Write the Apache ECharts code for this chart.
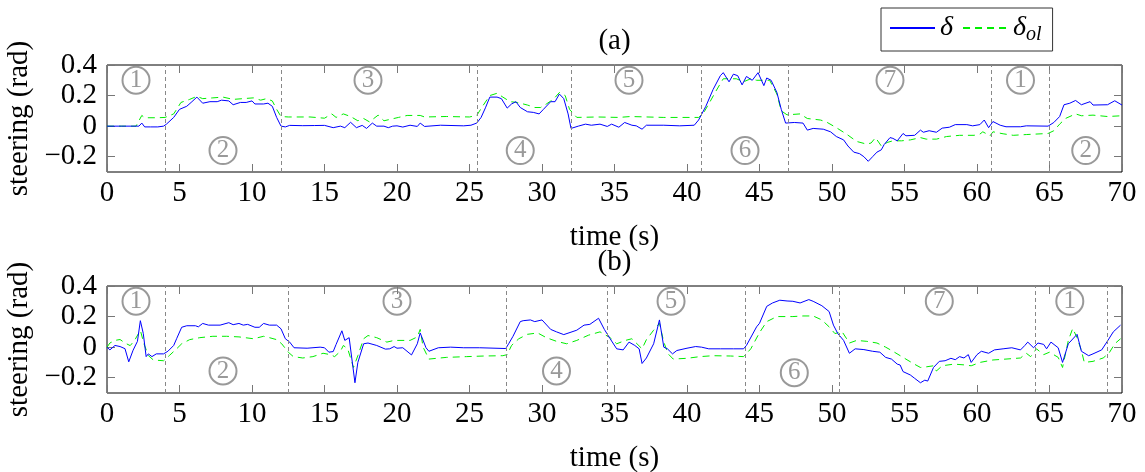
<!DOCTYPE html>
<html>
<head>
<meta charset="utf-8">
<script src="https://cdn.jsdelivr.net/npm/echarts@6/dist/echarts.min.js"></script>
<style>
html,body{margin:0;padding:0;background:#fff;}
#chart{width:1145px;height:472px;}
</style>
</head>
<body>
<div id="chart"></div>
<script>
// ---------- DATA ----------
const xTicks = [0,5,10,15,20,25,30,35,40,45,50,55,60,65,70];
const yTicks = [-0.2, 0, 0.2, 0.4];

// (a) delta (blue)
const aDeltaT = [0,1,2.2,2.4,2.6,3.0,3.5,3.9,4.1,4.6,5.0,5.5,5.8,6.2,6.6,7.1,7.6,7.9,8.4,8.7,9.2,9.6,10.0,10.2,10.8,11.1,11.4,11.7,12.0,12.3,12.6,13.5,14.3,15.0,15.6,16.1,16.4,16.8,17.2,17.6,17.9,18.3,18.6,19.1,19.4,19.7,20.0,20.4,20.9,21.4,21.6,21.9,23.0,24.6,25.1,25.5,25.8,26.1,26.4,26.9,27.2,27.6,27.9,28.2,28.5,29.0,29.4,29.8,30.1,30.6,30.9,31.2,31.5,31.8,32.0,32.5,33.0,33.4,34.0,34.5,34.8,35.3,35.7,36.2,36.5,36.9,37.2,38.4,39.5,40.5,40.8,41.3,41.8,42.3,42.5,42.9,43.2,43.5,43.8,44.1,44.5,44.9,45.3,45.5,45.8,46.2,46.5,46.8,47.4,48.0,48.3,48.7,49.4,49.9,50.3,50.8,51.1,51.5,51.9,52.2,52.5,52.8,53.1,53.4,53.6,54.0,54.2,54.5,54.9,55.1,55.7,56.1,56.3,56.7,57.2,57.6,58.1,58.5,59.3,59.7,60.2,60.5,60.8,61.1,61.6,62.0,63.0,63.4,64.9,65.3,65.7,66.0,66.4,66.8,67.2,67.8,68.0,69.0,69.5,70.0];
const aDeltaV = [0,0,0,0.02,-0.005,-0.005,-0.005,0,0.013,0.057,0.11,0.13,0.155,0.19,0.15,0.16,0.16,0.17,0.165,0.14,0.155,0.155,0.165,0.145,0.145,0.15,0.13,0.057,0,-0.005,0.005,0.003,0.004,0.005,-0.01,0,-0.01,0.025,-0.01,0.005,-0.015,0.02,0,0,-0.01,0,0.002,-0.006,0.006,-0.002,0.02,-0.002,0.006,0.002,0.006,0.02,0.057,0.12,0.19,0.19,0.18,0.118,0.145,0.16,0.122,0.094,0.09,0.08,0.11,0.16,0.16,0.21,0.18,0.08,-0.015,0,0.013,0.006,0.013,-0.002,0.013,-0.007,0.024,0.006,0.002,-0.02,0.006,0.006,0.002,0.006,0.04,0.13,0.24,0.33,0.35,0.29,0.34,0.33,0.27,0.325,0.3,0.35,0.265,0.315,0.3,0.22,0.11,0.02,0.024,0.02,-0.026,-0.015,-0.02,-0.037,-0.068,-0.09,-0.13,-0.17,-0.18,-0.2,-0.23,-0.2,-0.17,-0.155,-0.12,-0.075,-0.08,-0.096,-0.048,-0.063,-0.06,-0.026,-0.04,-0.03,-0.04,-0.013,-0.007,0.01,0.01,0.002,0.01,0.04,-0.01,0.03,0.006,-0.004,-0.004,0.002,0,0.024,0.063,0.14,0.15,0.168,0.14,0.16,0.138,0.14,0.166,0.138];

// (a) delta_ol (green)
const aOlT = [0,2.0,2.4,2.6,3.5,4.0,4.6,5.1,5.7,6.2,6.6,7.3,8.0,8.7,9.4,10.1,10.6,11.0,11.4,11.7,12.0,12.5,14.0,15.0,15.5,15.8,16.3,16.8,17.3,17.7,18.1,18.7,19.1,19.6,20.1,20.7,21.6,21.9,23.4,25.0,25.5,25.9,26.4,26.9,27.3,27.8,28.3,29.0,29.5,29.9,30.3,30.8,31.2,31.6,31.9,32.4,33.8,35.3,36.1,38.4,40.8,41.1,41.5,42.0,42.5,43.0,43.4,43.9,44.4,44.8,45.3,45.7,46.2,46.5,46.9,47.8,48.3,49.2,49.6,50.3,51.0,51.7,52.4,52.7,53.0,53.4,53.8,54.2,54.8,55.4,56.1,56.5,57.2,57.9,58.8,59.8,60.2,60.4,60.9,61.1,61.8,62.5,63.4,64.9,65.3,65.7,66.1,66.8,67.2,68.0,69.0,70.0];
const aOlV = [0,0,0.07,0.055,0.055,0.057,0.08,0.155,0.175,0.195,0.18,0.185,0.19,0.175,0.18,0.185,0.17,0.18,0.165,0.11,0.063,0.06,0.06,0.052,0.08,0.057,0.08,0.063,0.035,0.05,0.028,0.072,0.035,0.046,0.057,0.07,0.07,0.06,0.063,0.06,0.07,0.13,0.2,0.215,0.19,0.16,0.155,0.138,0.122,0.122,0.145,0.177,0.22,0.2,0.11,0.057,0.06,0.057,0.063,0.057,0.057,0.08,0.145,0.23,0.31,0.31,0.31,0.29,0.31,0.3,0.3,0.3,0.21,0.1,0.074,0.08,0.05,0.04,0.028,-0.01,-0.052,-0.1,-0.118,-0.11,-0.075,-0.13,-0.107,-0.096,-0.096,-0.09,-0.075,-0.085,-0.085,-0.068,-0.06,-0.06,-0.052,-0.037,-0.063,-0.037,-0.05,-0.06,-0.055,-0.048,-0.03,0.013,0.05,0.08,0.068,0.072,0.063,0.068];

// (b) delta (blue)
const bDeltaT = [0,0.2,0.55,0.9,1.24,1.5,1.8,2.1,2.3,2.5,2.7,2.85,3.1,3.4,3.9,4.2,4.6,4.8,5.15,5.5,6.1,6.3,6.6,7.0,7.8,8.4,8.7,9.1,9.4,9.7,10.2,10.5,10.8,11.2,11.7,12.0,12.3,12.6,12.9,13.8,14.7,15.0,15.3,15.6,15.8,16.2,16.4,16.7,17.1,17.3,17.7,18.0,18.6,19.2,19.5,19.8,20.0,20.4,21.0,21.4,21.6,22.0,22.2,22.85,23.7,24.6,25.7,27.5,27.7,28.0,28.5,28.7,29.2,29.5,30.0,30.6,31.0,31.5,32.0,32.4,32.9,33.3,33.9,34.3,34.7,35.15,35.6,36.0,36.4,36.7,36.9,37.2,37.7,38.1,38.4,38.65,39.0,39.3,40.0,40.6,41.0,41.5,42.3,43.2,43.9,44.1,44.8,45.0,45.5,45.9,46.4,46.9,47.3,47.8,48.4,48.7,49.3,49.8,50.1,50.4,50.8,51.2,51.6,52.2,52.8,53.3,53.7,54.1,54.5,54.7,54.9,55.4,55.7,56.1,56.4,56.6,57.0,57.4,57.8,58.2,58.5,58.8,59.1,59.4,59.6,60.0,60.3,60.8,61.2,61.8,62.4,63.0,63.3,63.5,63.9,64.2,64.6,64.8,65.1,65.6,65.9,66.3,66.9,67.2,67.7,68.0,68.6,69.0,69.4,69.9];
const bDeltaV = [0,-0.018,0.011,0.004,-0.01,-0.096,-0.02,0.038,0.173,0.09,-0.062,-0.044,-0.062,-0.044,-0.044,-0.027,0.011,0.055,0.13,0.14,0.14,0.133,0.155,0.144,0.144,0.16,0.147,0.155,0.144,0.149,0.13,0.13,0.155,0.144,0.144,0.12,0.055,0.033,-0.004,-0.007,0,-0.004,-0.033,-0.029,0.018,0.107,0.044,0.062,-0.233,-0.1,0.022,0.027,0.011,-0.013,-0.011,0.004,-0.007,-0.004,-0.051,0.022,0.093,-0.004,-0.027,-0.004,0,-0.004,-0.004,-0.009,0.022,0.071,0.167,0.173,0.178,0.167,0.178,0.116,0.1,0.082,0.098,0.111,0.144,0.149,0.189,0.116,0.055,-0.011,-0.018,0.033,0.011,-0.011,-0.107,-0.071,0.022,0.178,0,-0.011,-0.044,-0.022,-0.007,0.004,0,-0.011,-0.011,-0.011,-0.011,0.011,0.133,0.156,0.267,0.289,0.307,0.302,0.3,0.289,0.311,0.3,0.271,0.233,0.144,0.089,0.044,-0.04,-0.011,-0.016,-0.027,-0.033,-0.067,-0.078,-0.111,-0.117,-0.16,-0.182,-0.204,-0.233,-0.216,-0.222,-0.133,-0.093,-0.089,-0.073,-0.082,-0.062,-0.071,-0.049,-0.1,-0.049,-0.027,-0.04,-0.018,-0.011,-0.004,-0.018,0.011,0.033,-0.004,0.027,0.018,-0.011,0.033,-0.004,-0.1,0.022,0.084,-0.027,-0.056,-0.044,-0.018,0.04,0.1,0.144];

// (b) delta_ol (green)
const bOlT = [0,0.2,0.55,0.9,1.24,1.6,1.9,2.3,2.55,2.85,3.2,3.9,4.3,4.8,5.15,5.7,6.4,7.3,8.25,9.1,10.1,10.8,11.2,11.7,12.05,12.5,12.85,13.5,14.2,14.9,15.4,15.7,16.1,16.3,16.6,17.0,17.3,17.7,18.0,18.6,19.3,19.8,20.9,21.4,21.6,21.8,22.2,23.4,24.8,26.0,27.3,27.6,27.9,28.4,29.0,29.7,30.3,31.0,31.7,32.4,33.2,34.0,34.7,35.15,35.75,36.2,36.9,37.2,37.7,38.1,38.4,38.7,39.05,40.0,40.9,41.8,43.0,43.9,44.4,45.0,45.5,46.2,47.3,48.0,48.7,49.3,49.8,50.2,50.7,51.2,51.7,52.4,53.1,53.7,54.2,54.9,55.6,56.1,56.5,57.0,57.2,57.6,58.4,59.1,59.6,60.2,61.1,62.0,63.0,63.4,63.7,64.1,64.6,65.0,65.6,65.9,66.3,66.6,66.9,67.2,67.4,68.0,68.7,69.1,69.5,69.9];
const bOlV = [0,0.027,0.044,0.05,0.027,0.01,0.044,0.11,0.022,-0.055,-0.084,-0.089,-0.055,-0.011,0.022,0.049,0.062,0.071,0.071,0.067,0.055,0.071,0.062,0.049,0.022,-0.033,-0.062,-0.071,-0.062,-0.04,-0.049,-0.062,-0.027,0.011,-0.011,-0.133,-0.056,0.055,0.076,0.062,0.033,0.044,0.044,0.067,0.116,0,-0.078,-0.067,-0.062,-0.058,-0.056,-0.049,0.011,0.055,0.084,0.093,0.062,0.038,0.022,0.044,0.078,0.1,0.062,0.022,0.044,0.055,-0.011,0.049,0.111,0.156,0.033,-0.044,-0.078,-0.073,-0.062,-0.056,-0.058,-0.062,-0.011,0.095,0.167,0.2,0.2,0.204,0.204,0.178,0.133,0.089,0.1,0.027,0.044,0.038,0.027,0,-0.027,-0.067,-0.107,-0.133,-0.129,-0.122,-0.156,-0.122,-0.111,-0.116,-0.122,-0.1,-0.084,-0.078,-0.071,-0.04,-0.062,-0.011,-0.049,-0.033,-0.067,-0.133,0.044,0.122,0.062,-0.022,-0.1,-0.093,-0.071,-0.04,0.022,0.055];

// phase boundaries (s)
const aPhaseBounds = [4, 12, 25.5, 32, 41, 47, 61, 65];
const bPhaseBounds = [4, 12.5, 27.5, 34.5, 44, 50.5, 64, 69];

// phase markers: time, steering level, label
const aPhaseT = [2, 8, 18, 28.5, 36, 44, 54, 63, 67.5];
const aPhaseY = [0.3, -0.16, 0.3, -0.16, 0.3, -0.16, 0.3, 0.3, -0.16];
const aPhaseL = ['1','2','3','4','5','6','7','1','2'];
const bPhaseT = [2, 8, 20, 31, 38.9, 47.4, 57.4, 66.4];
const bPhaseY = [0.3, -0.156, 0.3, -0.156, 0.3, -0.167, 0.3, 0.3];
const bPhaseL = ['1','2','3','4','5','6','7','1'];

// ---------- CHART ----------
const FONT = 'Liberation Serif';
const FS = 29;
const zip = (t, v) => t.map((x, i) => [x, v[i]]);
const zip3 = (t, v, l) => t.map((x, i) => [x, v[i], l[i]]);

const grids = [
  {left: 107, right: 23, top: 65, height: 107, show: true, borderColor: '#000', borderWidth: 1, containLabel: false, outerBoundsMode: 'none'},
  {left: 107, right: 23, top: 286, height: 107, show: true, borderColor: '#000', borderWidth: 1, containLabel: false, outerBoundsMode: 'none'}
];

function xAxes(g, title) {
  const tick = {show: true, inside: true, length: 8, lineStyle: {color: '#777', width: 1}};
  return [
    {gridIndex: g, type: 'value', min: 0, max: 70, interval: 5, position: 'bottom',
     axisLine: {show: false, onZero: false}, axisTick: tick, splitLine: {show: false},
     axisLabel: {fontFamily: FONT, fontSize: FS, color: '#000', margin: 7},
     name: 'time (s)', nameLocation: 'middle', nameGap: 51,
     nameTextStyle: {fontFamily: FONT, fontSize: FS, color: '#000'}},
    {gridIndex: g, type: 'value', min: 0, max: 70, interval: 5, position: 'top',
     axisLine: {show: false, onZero: false}, axisTick: tick, splitLine: {show: false},
     axisLabel: {show: false},
     name: title, nameLocation: 'middle', nameGap: 9,
     nameTextStyle: {fontFamily: FONT, fontSize: FS, color: '#000'}}
  ];
}
function yAxes(g) {
  const tick = {show: true, inside: true, length: 8, customValues: yTicks, lineStyle: {color: '#777', width: 1}};
  return [
    {gridIndex: g, type: 'value', min: -0.3, max: 0.4, position: 'left',
     axisLine: {show: false, onZero: false}, axisTick: tick, splitLine: {show: false},
     axisLabel: {customValues: yTicks, fontFamily: FONT, fontSize: FS, color: '#000', margin: 10,
       formatter: v => (Math.abs(v) < 1e-9 ? '0' : (v < 0 ? '\u2212' : '') + Math.abs(v).toFixed(1))},
     name: 'steering (rad)', nameLocation: 'middle', nameGap: 71,
     nameTextStyle: {fontFamily: FONT, fontSize: FS, color: '#000'}},
    {gridIndex: g, type: 'value', min: -0.3, max: 0.4, position: 'right',
     axisLine: {show: false, onZero: false}, axisTick: tick, splitLine: {show: false},
     axisLabel: {show: false}}
  ];
}

function seriesFor(g, dT, dV, oT, oV, bounds, pT, pY, pL) {
  const xi = 2 * g, yi = 2 * g;
  return [
    {type: 'line', name: 'δ', xAxisIndex: xi, yAxisIndex: yi, data: zip(dT, dV),
     symbol: 'none', lineStyle: {color: '#0000ff', width: 1}, itemStyle: {color: '#0000ff'}, z: 4,
     markLine: {silent: true, symbol: ['none', 'none'], label: {show: false},
       lineStyle: {color: '#888', type: [4, 3], width: 1},
       data: bounds.map(b => ({xAxis: b}))}},
    {type: 'line', name: 'δol', xAxisIndex: xi, yAxisIndex: yi, data: zip(oT, oV),
     symbol: 'none', lineStyle: {color: '#00ee00', width: 1, type: [7, 5]}, itemStyle: {color: '#00ee00'}, z: 3},
    {type: 'scatter', name: 'phase' + g, xAxisIndex: xi, yAxisIndex: yi, data: zip3(pT, pY, pL),
     silent: true, symbol: 'circle', symbolSize: 27,
     itemStyle: {color: 'rgba(0,0,0,0)', borderColor: '#808080', borderWidth: 2},
     label: {show: true, position: 'inside', formatter: p => p.value[2],
       fontFamily: FONT, fontSize: 25, color: '#808080'}, z: 2}
  ];
}

const option = {
  animation: false,
  backgroundColor: '#fff',
  grid: grids,
  xAxis: [...xAxes(0, '(a)'), ...xAxes(1, '(b)')],
  yAxis: [...yAxes(0), ...yAxes(1)],
  legend: {
    data: ['δ', 'δol'], left: 881, top: 8, orient: 'horizontal',
    itemWidth: 45, itemHeight: 14, itemGap: 9,
    padding: [6, 11, 6, 8], borderColor: '#333', borderWidth: 1,
    itemStyle: {opacity: 0},
    formatter: n => n === 'δol' ? '{m|δ}{s|ol}' : '{m|δ}',
    textStyle: {color: '#000', fontFamily: FONT, padding: [0, 0, 0, 0],
      rich: {
        m: {fontFamily: FONT, fontSize: 28, fontStyle: 'italic', color: '#000', lineHeight: 34},
        s: {fontFamily: FONT, fontSize: 20, fontStyle: 'italic', color: '#000', lineHeight: 16, verticalAlign: 'bottom'}
      }}
  },
  series: [
    ...seriesFor(0, aDeltaT, aDeltaV, aOlT, aOlV, aPhaseBounds, aPhaseT, aPhaseY, aPhaseL),
    ...seriesFor(1, bDeltaT, bDeltaV, bOlT, bOlV, bPhaseBounds, bPhaseT, bPhaseY, bPhaseL)
  ]
};

const chart = echarts.init(document.getElementById('chart'), null, {renderer: 'canvas'});
chart.setOption(option);
</script>
</body>
</html>
